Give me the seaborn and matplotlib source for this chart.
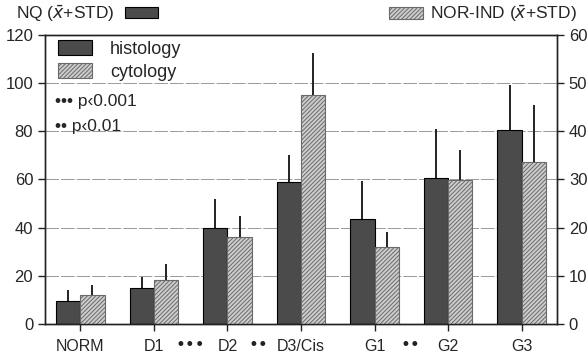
import pandas as pd
import numpy as np
import matplotlib
matplotlib.use('Agg')
import matplotlib.pyplot as plt
from matplotlib.patches import Patch
import seaborn as sns

#%% data
groups = ['NORM', 'D1', 'D2', 'D3/Cis', 'G1', 'G2', 'G3']
nq_mean = [9.5, 15.0, 40.0, 59.0, 43.5, 60.5, 80.5]   # histology, left axis
nq_std = [4.5, 4.6, 12.0, 11.0, 16.0, 20.5, 18.7]
norind_mean = [6.0, 9.2, 18.1, 47.5, 16.0, 29.8, 33.7]  # cytology, right axis
norind_std = [2.0, 3.2, 4.4, 8.7, 3.0, 6.4, 11.7]
series = ['histology', 'cytology']
sig_marks = ['•••', '••', '••']
sig_pos = [1.5, 2.42, 4.48]

#%% style
sns.set_style('ticks')
plt.rcParams['font.family'] = ['Liberation Sans', 'DejaVu Sans']
plt.rcParams['mathtext.fontset'] = 'dejavusans'
plt.rcParams['hatch.linewidth'] = 0.7
dark = '#4b4b4b'
light = '#cdcdcd'
hatch_col = '#6a6a6a'
hatch = '////////'
pal = {'histology': dark, 'cytology': light}

# long table, each series in its own units
df = pd.concat([
    pd.DataFrame({'group': groups, 'value': nq_mean, 'std': nq_std, 'series': 'histology'}),
    pd.DataFrame({'group': groups, 'value': norind_mean, 'std': norind_std, 'series': 'cytology'}),
])

fig = plt.figure(figsize=(5.87, 3.56), dpi=100)
ax = fig.add_axes([0.0767, 0.0899, 0.8723, 0.8118])
ax2 = ax.twinx()

# same dodged layout on both axes, each axis keeps only its own series
for a, keep in [(ax, 'histology'), (ax2, 'cytology')]:
    sns.barplot(data=df, x='group', y='value', hue='series', hue_order=series,
                order=groups, palette=pal, ax=a, errorbar=None, width=0.66,
                edgecolor='black', linewidth=0.8, legend=False)
    for s, cont in zip(series, a.containers):
        if s != keep:
            for p in cont:
                p.remove()
        else:
            stds = df[df['series'] == s].set_index('group').loc[groups, 'std']
            for p, sd in zip(cont, stds):
                xc = p.get_x() + p.get_width() / 2
                a.vlines(xc, p.get_height(), p.get_height() + sd,
                         color='#222222', lw=1.4, zorder=1)
            if s == 'cytology':
                for p in cont:
                    p.set_hatch(hatch)
                    p.set_edgecolor(hatch_col)

ax.set_xlim(-0.48, 6.48)
ax.set_ylim(0, 120)
ax2.set_ylim(0, 60)
ax.set_yticks(range(0, 121, 20))
ax2.set_yticks(range(0, 61, 10))
ax.set_xlabel('')
ax.set_ylabel('')
ax2.set_ylabel('')
ax.yaxis.grid(True, color='#9a9a9a', lw=0.7, ls=(0, (14, 2)))
ax.set_axisbelow(True)
ax.tick_params(axis='both', labelsize=12, length=5, width=1, color='#222222')
ax.tick_params(axis='x', labelsize=11.5, pad=6)
ax2.tick_params(axis='y', labelsize=12, length=5, width=1, color='#222222')
for a in (ax, ax2):
    for sp in a.spines.values():
        sp.set_color('#222222')
        sp.set_linewidth(1)

# significance dots between group labels
for m, xp in zip(sig_marks, sig_pos):
    ax.text(xp, -0.073, m, transform=ax.get_xaxis_transform(), ha='center', va='center',
            fontsize=12, color='#222222', family=['DejaVu Sans'])

# legend inside
h_hist = Patch(facecolor=dark, edgecolor='black', lw=0.8)
h_cyt = Patch(facecolor=light, edgecolor=hatch_col, hatch=hatch, lw=0.8)
ax.legend([h_hist, h_cyt], series, loc='upper left', bbox_to_anchor=(0.0, 1.025),
          frameon=False, fontsize=13, handlelength=1.9, handleheight=0.85,
          handletextpad=1.0, labelspacing=0.3, borderaxespad=0.3)
ax.text(0.02, 0.77, '••• p‹0.001', transform=ax.transAxes, fontsize=12.5, va='center')
ax.text(0.02, 0.685, '•• p‹0.01', transform=ax.transAxes, fontsize=12.5, va='center')

# axis titles with swatches
fig.legend([Patch(facecolor=dark, edgecolor='black', lw=0.8)], [r'NQ ($\bar{x}$+STD)'],
           loc='upper left', bbox_to_anchor=(0.0, 1.035), frameon=False, fontsize=12.5,
           markerfirst=False, handlelength=1.9, handleheight=0.6, handletextpad=0.6)
fig.legend([Patch(facecolor=light, edgecolor=hatch_col, hatch=hatch, lw=0.8)],
           [r'NOR-IND ($\bar{x}$+STD)'], loc='upper right', bbox_to_anchor=(1.01, 1.035),
           frameon=False, fontsize=12.5, handlelength=2.0, handleheight=0.7, handletextpad=0.4)

fig.savefig('out.png', dpi=100)
